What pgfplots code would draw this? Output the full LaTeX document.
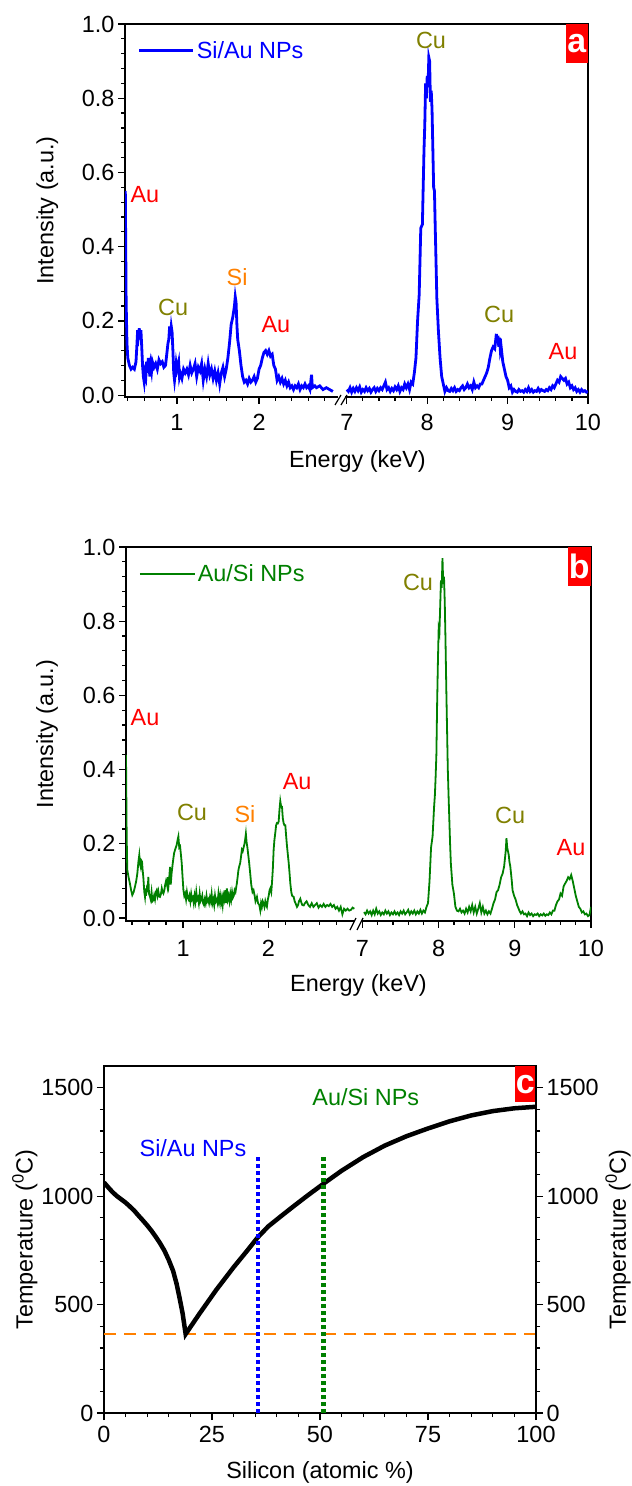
\documentclass[border=0pt]{standalone}
\usepackage{fontspec}
\setmainfont{Liberation Sans}
\usepackage{pgfplots}
\pgfplotsset{compat=1.18}
\definecolor{olivec}{RGB}{128,128,0}
\definecolor{orangec}{RGB}{255,128,0}
\definecolor{greenc}{RGB}{0,128,0}
\pgfplotsset{
  myax/.style={
    scale only axis,
    font=\fontsize{23.5}{28}\selectfont,
    axis line style={line width=1.6bp},
    tick align=outside,
    tick style={line width=1.2bp, black},
    major tick length=7bp, minor tick length=4bp,
    /pgf/number format/assume math mode=true,
    /pgf/number format/1000 sep={},
    scaled ticks=false,
    xtick pos=left, ytick pos=left,
    clip mode=individual,
  },
}
\tikzset{boxlab/.style={fill=red, text=white, font=\bfseries\fontsize{34}{34}\selectfont, inner sep=0pt, anchor=north east}}
\begin{document}
\begin{tikzpicture}
\useasboundingbox (0,0) rectangle (632bp,1486bp);
% ---------------- panel a ----------------
\begin{axis}[myax, at={(125bp,1089bp)}, anchor=south west, width=463bp, height=373bp,
  xmin=0.366, xmax=6.01, ymin=-0.005, ymax=1.0,
  xtick={1,2,3.07,4.05,5.03,6.01}, xticklabels={1,2,7,8,9,10},
  minor xtick={0.4,0.6,0.8,1.2,1.4,1.6,1.8,2.2,2.4,2.6,2.8,3.266,3.462,3.658,3.854,4.246,4.442,4.638,4.834,5.226,5.422,5.618,5.814},
  xticklabel style={yshift=-7bp},
  ytick={0,0.2,0.4,0.6,0.8,1.0}, minor y tick num=4,
  yticklabel style={/pgf/number format/.cd, fixed, fixed zerofill, precision=1},
  xlabel={Energy (keV)}, ylabel={Intensity (a.u.)},
  xlabel style={at={(axis description cs:0.502,-0.172)}, anchor=center},
  ylabel style={at={(axis description cs:-0.168,0.5)}, anchor=center},
  x filter/.expression={x>5 ? 3.07+(x-7)*0.98 : x},
  legend style={at={(axis description cs:0.028,0.928)}, anchor=west, draw=none, fill=none, inner sep=0pt, outer sep=0pt},
  legend image code/.code={\draw[#1] (0bp,0bp) -- (54bp,0bp);},
]
\addplot[blue, line width=2.8bp] coordinates {
(0.37,0.55) (0.375,0.40) (0.38,0.25) (0.39,0.14) (0.40,0.10) (0.42,0.08) (0.44,0.07) (0.46,0.075) (0.48,0.07) (0.50,0.09)
(0.51,0.13) (0.52,0.175) (0.53,0.16) (0.54,0.18) (0.55,0.15) (0.56,0.175) (0.57,0.13) (0.58,0.08) (0.59,0.05) (0.60,0.035)
(0.61,0.06) (0.62,0.05) (0.63,0.09) (0.64,0.06) (0.65,0.10) (0.66,0.07) (0.67,0.05) (0.68,0.08) (0.69,0.065) (0.70,0.09)
(0.72,0.075) (0.74,0.085) (0.76,0.07) (0.78,0.095) (0.80,0.085) (0.82,0.09) (0.84,0.075) (0.86,0.08) (0.88,0.12) (0.89,0.14)
(0.90,0.15) (0.91,0.185) (0.92,0.16) (0.93,0.185) (0.94,0.17) (0.95,0.12) (0.96,0.06) (0.97,0.04) (0.98,0.06) (0.99,0.085)
(1.00,0.07) (1.02,0.09) (1.03,0.05) (1.04,0.06) (1.06,0.045) (1.08,0.07) (1.10,0.06) (1.12,0.07) (1.14,0.055) (1.16,0.08)
(1.18,0.06) (1.20,0.07) (1.22,0.085) (1.24,0.05) (1.26,0.075) (1.28,0.065) (1.30,0.085) (1.32,0.04) (1.34,0.07) (1.36,0.05)
(1.38,0.085) (1.40,0.055) (1.42,0.07) (1.44,0.045) (1.46,0.065) (1.48,0.04) (1.50,0.06) (1.52,0.03) (1.54,0.06) (1.56,0.075)
(1.58,0.05) (1.60,0.07) (1.62,0.10) (1.64,0.14) (1.66,0.19) (1.68,0.21) (1.70,0.24) (1.71,0.265) (1.72,0.25) (1.73,0.19)
(1.74,0.15) (1.76,0.12) (1.78,0.08) (1.80,0.05) (1.82,0.035) (1.84,0.04) (1.86,0.03) (1.88,0.045) (1.90,0.035) (1.92,0.04)
(1.94,0.05) (1.96,0.035) (1.98,0.045) (2.00,0.07) (2.02,0.08) (2.04,0.10) (2.06,0.115) (2.08,0.12) (2.10,0.11) (2.12,0.12)
(2.14,0.105) (2.16,0.11) (2.18,0.08) (2.20,0.07) (2.22,0.04) (2.24,0.05) (2.26,0.035) (2.28,0.045) (2.30,0.03) (2.32,0.04)
(2.34,0.025) (2.36,0.035) (2.38,0.02) (2.40,0.025) (2.42,0.015) (2.44,0.025) (2.46,0.02) (2.48,0.03) (2.50,0.015) (2.52,0.025)
(2.54,0.02) (2.56,0.03) (2.58,0.02) (2.60,0.025) (2.62,0.015) (2.64,0.055) (2.65,0.02) (2.68,0.025) (2.70,0.02) (2.74,0.025)
(2.78,0.015) (2.82,0.02) (2.86,0.015) (2.90,0.01)
};
\addlegendentry{\textcolor{blue}{Si/Au NPs}}
\addplot[blue, line width=2.8bp, forget plot] coordinates {
(7.00,0.015) (7.02,0.01) (7.04,0.02) (7.06,0.008) (7.08,0.018) (7.10,0.01) (7.12,0.02) (7.14,0.012) (7.16,0.022) (7.18,0.008)
(7.20,0.015) (7.22,0.01) (7.24,0.02) (7.26,0.012) (7.28,0.018) (7.30,0.008) (7.32,0.015) (7.34,0.02) (7.36,0.01) (7.38,0.018)
(7.40,0.012) (7.42,0.02) (7.44,0.015) (7.46,0.025) (7.48,0.035) (7.50,0.015) (7.52,0.02) (7.54,0.01) (7.56,0.018) (7.58,0.012)
(7.60,0.022) (7.62,0.015) (7.64,0.025) (7.66,0.01) (7.68,0.02) (7.70,0.015) (7.72,0.03) (7.74,0.02) (7.76,0.03) (7.78,0.015)
(7.80,0.035) (7.82,0.03) (7.84,0.06) (7.86,0.10) (7.88,0.20) (7.90,0.27) (7.92,0.45) (7.94,0.46) (7.96,0.66) (7.97,0.73)
(7.98,0.84) (7.99,0.80) (8.00,0.86) (8.01,0.83) (8.02,0.91) (8.03,0.90) (8.04,0.79) (8.05,0.82) (8.06,0.77) (8.08,0.56)
(8.09,0.55) (8.10,0.45) (8.12,0.26) (8.14,0.17) (8.16,0.10) (8.18,0.05) (8.20,0.03) (8.22,0.01) (8.24,0.02) (8.26,0.012)
(8.28,0.01) (8.30,0.018) (8.32,0.012) (8.34,0.02) (8.36,0.01) (8.38,0.015) (8.40,0.012) (8.42,0.02) (8.44,0.025) (8.46,0.015)
(8.48,0.02) (8.50,0.03) (8.52,0.02) (8.54,0.025) (8.56,0.015) (8.58,0.035) (8.60,0.02) (8.62,0.025) (8.64,0.02) (8.66,0.03)
(8.68,0.03) (8.70,0.04) (8.72,0.05) (8.74,0.06) (8.76,0.075) (8.78,0.10) (8.80,0.12) (8.82,0.13) (8.84,0.125) (8.86,0.165)
(8.87,0.14) (8.88,0.16) (8.89,0.13) (8.90,0.155) (8.91,0.12) (8.92,0.13) (8.94,0.09) (8.96,0.07) (8.98,0.05) (9.00,0.04)
(9.02,0.02) (9.04,0.025) (9.06,0.008) (9.08,0.015) (9.10,0.01) (9.12,0.008) (9.14,0.015) (9.16,0.01) (9.18,0.012) (9.20,0.008)
(9.22,0.015) (9.24,0.01) (9.26,0.02) (9.28,0.01) (9.30,0.015) (9.32,0.008) (9.34,0.012) (9.36,0.01) (9.38,0.018) (9.40,0.01)
(9.42,0.015) (9.44,0.012) (9.46,0.01) (9.48,0.015) (9.50,0.012) (9.52,0.02) (9.54,0.015) (9.56,0.025) (9.58,0.02) (9.60,0.03)
(9.62,0.04) (9.64,0.035) (9.66,0.05) (9.68,0.045) (9.70,0.04) (9.72,0.045) (9.74,0.03) (9.76,0.035) (9.78,0.02) (9.80,0.025)
(9.82,0.015) (9.84,0.02) (9.86,0.01) (9.88,0.015) (9.90,0.008) (9.92,0.015) (9.94,0.01) (9.96,0.012) (9.98,0.008) (10.0,0.01)
};
\node[text=red] at (axis description cs:0.043,0.542) {Au};
\node[text=olivec] at (axis description cs:0.104,0.239) {Cu};
\node[text=orangec] at (axis description cs:0.242,0.322) {Si};
\node[text=red] at (axis description cs:0.326,0.193) {Au};
\node[text=olivec] at (axis description cs:0.661,0.957) {Cu};
\node[text=olivec] at (axis description cs:0.808,0.220) {Cu};
\node[text=red] at (axis description cs:0.946,0.121) {Au};
\node[boxlab, minimum width=22bp, minimum height=39bp] at (axis description cs:1,1) {a};
\fill[white] (axis description cs:0.460,-0.012) rectangle (axis description cs:0.475,0.012);
\draw[line width=1.2bp] (axis description cs:0.4536,-0.0214) -- (axis description cs:0.4665,0.0054);
\draw[line width=1.2bp] (axis description cs:0.4665,-0.0214) -- (axis description cs:0.4795,0.0054);
\end{axis}
% ---------------- panel b ----------------
\begin{axis}[myax, at={(126bp,565bp)}, anchor=south west, width=465bp, height=374bp,
  xmin=0.33, xmax=5.788, ymin=-0.008, ymax=1.0,
  xtick={1,2,3.106,4.0,4.894,5.788}, xticklabels={1,2,7,8,9,10},
  minor xtick={0.4,0.6,0.8,1.2,1.4,1.6,1.8,2.2,2.4,2.6,2.8,3.285,3.464,3.642,3.821,4.179,4.358,4.536,4.715,5.073,5.252,5.43,5.609},
  xticklabel style={yshift=-9bp},
  ytick={0,0.2,0.4,0.6,0.8,1.0}, minor y tick num=4,
  yticklabel style={/pgf/number format/.cd, fixed, fixed zerofill, precision=1},
  xlabel={Energy (keV)}, ylabel={Intensity (a.u.)},
  xlabel style={at={(axis description cs:0.5,-0.171)}, anchor=center},
  ylabel style={at={(axis description cs:-0.17,0.5)}, anchor=center},
  x filter/.expression={x>5 ? 3.106+(x-7)*0.894 : x},
  legend style={at={(axis description cs:0.028,0.928)}, anchor=west, draw=none, fill=none, inner sep=0pt, outer sep=0pt},
  legend image code/.code={\draw[#1] (0bp,0bp) -- (55bp,0bp);},
]
\addplot[greenc, line width=1.8bp] coordinates {
(0.330,0.44) (0.335,0.30) (0.338,0.22) (0.345,0.13) (0.36,0.11) (0.376,0.093) (0.39,0.075) (0.404,0.062) (0.42,0.07) (0.435,0.084)
(0.45,0.10) (0.463,0.12) (0.475,0.15) (0.486,0.17) (0.495,0.145) (0.502,0.138) (0.51,0.155) (0.518,0.152) (0.525,0.13) (0.533,0.111)
(0.545,0.07) (0.553,0.057) (0.56,0.08) (0.565,0.06) (0.573,0.075) (0.58,0.09) (0.585,0.07) (0.592,0.111) (0.60,0.065) (0.612,0.057)
(0.62,0.05) (0.63,0.07) (0.64,0.045) (0.651,0.048) (0.66,0.06) (0.67,0.05) (0.68,0.07) (0.69,0.075) (0.70,0.06) (0.71,0.072)
(0.72,0.058) (0.729,0.057) (0.74,0.065) (0.75,0.08) (0.76,0.07) (0.769,0.066) (0.78,0.075) (0.79,0.09) (0.80,0.10) (0.808,0.093)
(0.815,0.085) (0.82,0.11) (0.83,0.09) (0.838,0.11) (0.847,0.138) (0.855,0.09) (0.865,0.12) (0.875,0.14) (0.886,0.161) (0.895,0.175)
(0.906,0.184) (0.915,0.19) (0.925,0.197) (0.935,0.21) (0.945,0.22) (0.955,0.19) (0.965,0.193) (0.975,0.17) (0.984,0.148) (0.994,0.11)
(1.004,0.075) (1.014,0.06) (1.024,0.066) (1.035,0.05) (1.045,0.07) (1.055,0.055) (1.065,0.05) (1.075,0.06) (1.085,0.045) (1.095,0.065)
(1.105,0.05) (1.115,0.055) (1.125,0.04) (1.135,0.06) (1.145,0.045) (1.155,0.07) (1.165,0.05) (1.175,0.055) (1.185,0.04) (1.195,0.065)
(1.205,0.045) (1.215,0.05) (1.225,0.06) (1.235,0.04) (1.245,0.035) (1.255,0.05) (1.265,0.04) (1.275,0.06) (1.285,0.045) (1.295,0.05)
(1.305,0.04) (1.315,0.055) (1.325,0.045) (1.335,0.065) (1.345,0.04) (1.355,0.05) (1.365,0.035) (1.375,0.06) (1.385,0.045) (1.395,0.05)
(1.405,0.04) (1.415,0.065) (1.425,0.045) (1.435,0.06) (1.445,0.04) (1.455,0.055) (1.465,0.035) (1.475,0.06) (1.485,0.05) (1.495,0.075)
(1.505,0.04) (1.514,0.08) (1.525,0.05) (1.535,0.06) (1.545,0.045) (1.555,0.065) (1.565,0.05) (1.575,0.07) (1.585,0.055) (1.595,0.06)
(1.605,0.075) (1.615,0.07) (1.625,0.085) (1.631,0.093) (1.64,0.11) (1.65,0.13) (1.66,0.14) (1.67,0.148) (1.68,0.165) (1.69,0.184)
(1.70,0.18) (1.71,0.19) (1.718,0.197) (1.728,0.21) (1.737,0.227) (1.745,0.205) (1.755,0.19) (1.765,0.17) (1.775,0.15) (1.788,0.12)
(1.80,0.09) (1.815,0.07) (1.827,0.075) (1.84,0.06) (1.85,0.045) (1.867,0.057) (1.88,0.04) (1.895,0.035) (1.906,0.021) (1.915,0.04)
(1.925,0.03) (1.935,0.045) (1.945,0.039) (1.955,0.03) (1.965,0.045) (1.975,0.035) (1.984,0.03) (1.995,0.05) (2.005,0.06) (2.015,0.075)
(2.024,0.08) (2.035,0.07) (2.043,0.093) (2.053,0.13) (2.063,0.184) (2.072,0.21) (2.082,0.229) (2.092,0.25) (2.102,0.256) (2.112,0.255)
(2.122,0.26) (2.131,0.29) (2.141,0.315) (2.151,0.30) (2.161,0.30) (2.17,0.27) (2.18,0.256) (2.19,0.25) (2.20,0.25) (2.21,0.22)
(2.22,0.193) (2.23,0.17) (2.24,0.148) (2.25,0.12) (2.259,0.093) (2.27,0.07) (2.28,0.06) (2.298,0.057) (2.31,0.045) (2.32,0.04)
(2.337,0.03) (2.35,0.035) (2.36,0.045) (2.376,0.052) (2.39,0.04) (2.40,0.035) (2.416,0.034) (2.43,0.04) (2.45,0.045) (2.47,0.035)
(2.49,0.03) (2.51,0.04) (2.53,0.03) (2.55,0.035) (2.57,0.04) (2.59,0.028) (2.61,0.035) (2.63,0.03) (2.65,0.038) (2.67,0.03)
(2.69,0.035) (2.71,0.032) (2.73,0.038) (2.75,0.03) (2.77,0.035) (2.79,0.025) (2.81,0.03) (2.83,0.02) (2.85,0.03) (2.87,0.01)
(2.89,0.025) (2.91,0.02) (2.93,0.025) (2.95,0.02) (2.97,0.022) (2.99,0.028) (3.01,0.025)
};
\addlegendentry{\textcolor{greenc}{Au/Si NPs}}
\addplot[greenc, line width=1.8bp, forget plot] coordinates {
(7.02,0.016) (7.04,0.01) (7.06,0.02) (7.08,0.012) (7.10,0.018) (7.12,0.008) (7.14,0.02) (7.16,0.01) (7.18,0.025) (7.20,0.012)
(7.22,0.018) (7.24,0.008) (7.26,0.015) (7.28,0.01) (7.30,0.02) (7.32,0.012) (7.34,0.018) (7.36,0.008) (7.38,0.015) (7.40,0.01)
(7.42,0.018) (7.44,0.01) (7.46,0.015) (7.48,0.008) (7.50,0.018) (7.52,0.012) (7.54,0.02) (7.56,0.01) (7.58,0.015) (7.60,0.022)
(7.62,0.01) (7.64,0.018) (7.66,0.012) (7.68,0.02) (7.70,0.01) (7.72,0.018) (7.74,0.012) (7.76,0.022) (7.78,0.012) (7.80,0.02)
(7.82,0.015) (7.84,0.03) (7.86,0.04) (7.88,0.10) (7.90,0.19) (7.92,0.22) (7.94,0.30) (7.95,0.33) (7.96,0.38) (7.97,0.44)
(7.98,0.58) (7.99,0.69) (8.00,0.78) (8.01,0.77) (8.02,0.84) (8.03,0.91) (8.04,0.89) (8.05,0.97) (8.06,0.90) (8.07,0.92)
(8.08,0.85) (8.09,0.745) (8.10,0.62) (8.11,0.51) (8.12,0.40) (8.13,0.33) (8.14,0.265) (8.15,0.20) (8.16,0.147) (8.18,0.09)
(8.20,0.066) (8.22,0.03) (8.24,0.02) (8.26,0.018) (8.28,0.025) (8.30,0.015) (8.32,0.02) (8.34,0.012) (8.36,0.025) (8.38,0.015)
(8.40,0.03) (8.42,0.018) (8.44,0.035) (8.46,0.015) (8.48,0.03) (8.50,0.012) (8.52,0.025) (8.54,0.04) (8.56,0.015) (8.58,0.03)
(8.60,0.012) (8.62,0.02) (8.64,0.01) (8.66,0.018) (8.68,0.012) (8.70,0.025) (8.72,0.04) (8.74,0.05) (8.76,0.07) (8.78,0.075)
(8.80,0.09) (8.82,0.11) (8.84,0.12) (8.86,0.14) (8.87,0.16) (8.88,0.18) (8.89,0.215) (8.90,0.19) (8.91,0.18) (8.92,0.17)
(8.93,0.15) (8.94,0.14) (8.95,0.12) (8.96,0.10) (8.97,0.075) (8.99,0.06) (9.01,0.05) (9.03,0.035) (9.06,0.02) (9.08,0.012)
(9.10,0.018) (9.12,0.01) (9.14,0.012) (9.16,0.005) (9.18,0.015) (9.20,0.008) (9.22,0.012) (9.24,0.005) (9.26,0.01) (9.28,0.008)
(9.30,0.012) (9.32,0.005) (9.34,0.01) (9.36,0.007) (9.38,0.012) (9.40,0.006) (9.42,0.01) (9.44,0.008) (9.46,0.015) (9.48,0.01)
(9.50,0.02) (9.52,0.02) (9.54,0.035) (9.56,0.045) (9.58,0.05) (9.60,0.066) (9.62,0.06) (9.64,0.085) (9.66,0.093) (9.68,0.10)
(9.70,0.11) (9.72,0.105) (9.74,0.116) (9.76,0.10) (9.78,0.08) (9.80,0.06) (9.82,0.045) (9.84,0.03) (9.86,0.025) (9.88,0.015)
(9.90,0.018) (9.92,0.01) (9.94,0.012) (9.96,0.005) (9.98,0.008) (10.0,0.03)
};
\node[text=red] at (axis description cs:0.041,0.543) {Au};
\node[text=olivec] at (axis description cs:0.142,0.291) {Cu};
\node[text=orangec] at (axis description cs:0.256,0.286) {Si};
\node[text=red] at (axis description cs:0.368,0.372) {Au};
\node[text=olivec] at (axis description cs:0.628,0.906) {Cu};
\node[text=olivec] at (axis description cs:0.826,0.283) {Cu};
\node[text=red] at (axis description cs:0.957,0.195) {Au};
\node[boxlab, minimum width=23bp, minimum height=39bp] at (axis description cs:1,1) {b};
\fill[white] (axis description cs:0.4925,-0.012) rectangle (axis description cs:0.5075,0.014);
\draw[line width=1.2bp] (axis description cs:0.4817,-0.0241) -- (axis description cs:0.4946,0.0080);
\draw[line width=1.2bp] (axis description cs:0.4968,-0.0241) -- (axis description cs:0.5097,0.0080);
\end{axis}
% ---------------- panel c ----------------
\begin{axis}[myax, at={(104bp,73bp)}, anchor=south west, width=432bp, height=347bp,
  xmin=0, xmax=100, ymin=0, ymax=1600,
  xtick={0,25,50,75,100}, minor x tick num=4,
  xticklabel style={yshift=-3bp},
  ytick={0,500,1000,1500}, minor y tick num=4,
  xlabel={Silicon (atomic \%)}, ylabel={Temperature (\textsuperscript{0}C)},
  xlabel style={at={(axis description cs:0.5,-0.17)}, anchor=center},
  ylabel style={at={(axis description cs:-0.183,0.5)}, anchor=center},
]
\addplot[orangec, line width=2bp, dash pattern=on 12bp off 8bp] coordinates {(0,364) (100,364)};
\addplot[black, line width=4.5bp] coordinates {
(0,1063) (1,1040) (2,1018) (3,1000) (4,985) (5,970) (6,952) (7,933) (8,910) (9,888) (10,865) (11,840) (12,812) (13,782)
(14,748) (15,705) (16,655) (16.8,596) (17.5,530) (18.2,459) (18.9,364)
(22,455) (26,568) (30,672) (33,745) (35.6,810) (38,860) (41,908) (44,955) (47,1001) (51,1060) (55,1117) (60,1180)
(65,1233) (70,1276) (75,1312) (80,1345) (85,1372) (90,1392) (95,1405) (100,1412)
};
\addplot[blue, line width=4.2bp, dash pattern=on 4bp off 3bp] coordinates {(35.6,0) (35.6,1190)};
\addplot[greenc, line width=4.2bp, dash pattern=on 4bp off 3bp] coordinates {(50.8,0) (50.8,1190)};
\node[text=blue] at (axis description cs:0.206,0.764) {Si/Au NPs};
\node[text=greenc] at (axis description cs:0.606,0.911) {Au/Si NPs};
\node[boxlab, minimum width=21bp, minimum height=36bp] at (axis description cs:1,1) {c};
\end{axis}
\begin{axis}[myax, at={(104bp,73bp)}, anchor=south west, width=432bp, height=347bp,
  xmin=0, xmax=100, ymin=0, ymax=1600,
  axis x line=none, axis y line*=right, ytick pos=right,
  ytick={0,500,1000,1500}, minor y tick num=4,
  ylabel={Temperature (\textsuperscript{0}C)},
  ylabel style={at={(axis description cs:1.19,0.5)}, anchor=center},
]
\end{axis}
\end{tikzpicture}
\end{document}
